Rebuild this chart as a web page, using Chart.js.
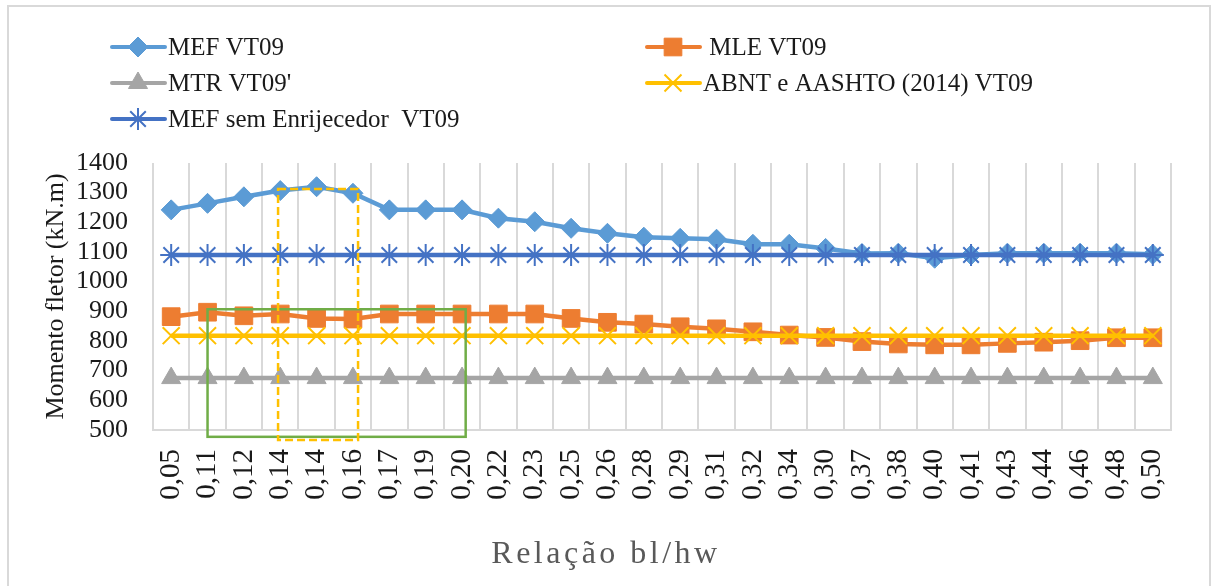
<!DOCTYPE html>
<html lang="pt">
<head>
<meta charset="utf-8">
<title>Momento fletor x Relação bl/hw – VT09</title>
<script src="https://cdn.jsdelivr.net/npm/chart.js@4.4.1/dist/chart.umd.min.js"></script>
<style>
  html, body { margin: 0; padding: 0; background: #fff; }
  #wrap { position: relative; width: 1211px; height: 586px; }
</style>
</head>
<body>
<div id="wrap"><canvas id="chart"></canvas></div>
<script>
/* ---------- data ---------------------------------------------------------- */
const relacaoBlHw = ['0,05','0,11','0,12','0,14','0,14','0,16','0,17','0,19','0,20','0,22',
                     '0,23','0,25','0,26','0,28','0,29','0,31','0,32','0,34','0,30','0,37',
                     '0,38','0,40','0,41','0,43','0,44','0,46','0,48','0,50'];

const mefVT09   = [1242,1264,1286,1307,1320,1298,1242,1242,1242,1214,
                   1202,1180,1163,1150,1146,1143,1126,1126,1112,1095,
                   1096,1079,1090,1096,1096,1096,1096,1092];
const mleVT09   = [882,897,885,891,876,874,891,891,891,891,
                   891,876,863,857,848,841,831,820,812,798,
                   790,787,787,792,796,801,811,811];
const mtrVT09   = [675,675,675,675,675,675,675,675,675,675,
                   675,675,675,675,675,675,675,675,675,675,
                   675,675,675,675,675,675,675,675];
const abntVT09  = [818,818,818,818,818,818,818,818,818,818,
                   818,818,818,818,818,818,818,818,818,818,
                   818,818,818,818,818,818,818,818];
const mefSemEnr = [1090,1090,1090,1090,1090,1090,1090,1090,1090,1090,
                   1090,1090,1090,1090,1090,1090,1090,1090,1090,1090,
                   1090,1090,1090,1090,1090,1090,1090,1090];

const yTicks = { min: 500, max: 1400, step: 100 };

/* ---------- series look + legend slots ------------------------------------ */
const SERIF = "'Liberation Serif', 'Times New Roman', serif";

const series = [
  { label: 'MEF VT09',                   data: mefVT09,   color: '#5B9BD5', style: 'rectRot',  radius: 10,   bw: 1, order: 4, lx: 112, ly: 47 },
  { label: ' MLE VT09',                  data: mleVT09,   color: '#ED7D31', style: 'rect',     radius: 12.5, bw: 1, order: 3, lx: 647, ly: 47 },
  { label: "MTR VT09'",                  data: mtrVT09,   color: '#A5A5A5', style: 'triangle', radius: 11,   bw: 1, order: 2, lx: 112, ly: 83 },
  { label: 'ABNT e AASHTO (2014) VT09',  data: abntVT09,  color: '#FFC000', style: 'crossRot', radius: 12,   bw: 2, order: 1, lx: 647, ly: 83 },
  { label: 'MEF sem Enrijecedor  VT09',  data: mefSemEnr, color: '#4472C4', style: 'star',     radius: 11,   bw: 2, order: 0, lx: 112, ly: 119 }
];

/* highlight boxes, in category index / kN.m units */
const boxes = [
  { x0: 1.0,  x1: 8.1,  top: 907,  bottom: 477, color: '#70AD47', dash: [] },
  { x0: 2.94, x1: 5.14, top: 1312, bottom: 466, color: '#FFC000', dash: [8, 4] }
];

/* ---------- plugin: frame, boxes, legend, x title -------------------------- */
const decor = {
  id: 'decor',
  beforeDraw(chart) {
    const { ctx, width, height } = chart;
    ctx.save();
    ctx.fillStyle = '#fff';
    ctx.fillRect(0, 0, width, height);
    ctx.strokeStyle = '#D9D9D9';
    ctx.lineWidth = 2;
    ctx.beginPath();
    ctx.moveTo(8, height + 2);
    ctx.lineTo(8, 6);
    ctx.lineTo(1210, 6);
    ctx.lineTo(1210, height + 2);
    ctx.stroke();
    ctx.restore();
  },
  afterDatasetsDraw(chart) {
    const { ctx, scales: { x, y } } = chart;
    ctx.save();
    ctx.lineWidth = 2.5;
    boxes.forEach(b => {
      const l = x.getPixelForValue(b.x0), r = x.getPixelForValue(b.x1);
      const t = y.getPixelForValue(b.top), bt = y.getPixelForValue(b.bottom);
      ctx.strokeStyle = b.color;
      ctx.setLineDash(b.dash);
      ctx.strokeRect(l, t, r - l, bt - t);
    });
    ctx.restore();
  },
  afterDraw(chart) {
    const ctx = chart.ctx;
    const drawPoint = Chart.helpers && Chart.helpers.drawPoint;
    ctx.save();
    // legend – two columns, line + marker + text
    series.forEach(s => {
      ctx.setLineDash([]);
      ctx.strokeStyle = s.color;
      ctx.lineWidth = 4;
      ctx.lineCap = 'round';
      ctx.beginPath();
      ctx.moveTo(s.lx, s.ly);
      ctx.lineTo(s.lx + 53, s.ly);
      ctx.stroke();
      ctx.fillStyle = s.color;
      ctx.lineWidth = s.bw;
      ctx.lineCap = 'butt';
      if (drawPoint) drawPoint(ctx, { pointStyle: s.style, radius: s.radius, borderWidth: s.bw, rotation: 0 }, s.lx + 26, s.ly);
      ctx.fillStyle = '#1a1a1a';
      ctx.font = `25px ${SERIF}`;
      ctx.textBaseline = 'middle';
      ctx.textAlign = 'left';
      ctx.fillText(s.label, s.lx + 56, s.ly + 1);
    });
    // x axis title, letter-spaced
    ctx.fillStyle = '#595959';
    ctx.font = `32px ${SERIF}`;
    ctx.letterSpacing = '3.5px';
    ctx.textAlign = 'center';
    ctx.textBaseline = 'alphabetic';
    ctx.fillText('Relação bl/hw', 606, 563);
    ctx.restore();
  }
};

/* ---------- chart ---------------------------------------------------------- */
new Chart(document.getElementById('chart'), {
  type: 'line',
  data: {
    labels: relacaoBlHw,
    datasets: series.map(s => ({
      label: s.label,
      data: s.data,
      order: s.order,
      borderColor: s.color,
      backgroundColor: s.color,
      borderWidth: 4.5,
      tension: 0,
      fill: false,
      pointStyle: s.style,
      pointRadius: s.radius,
      pointHoverRadius: s.radius,
      pointBorderWidth: s.bw,
      pointBackgroundColor: s.color,
      pointBorderColor: s.color
    }))
  },
  options: {
    responsive: true,
    maintainAspectRatio: false,
    animation: false,
    layout: { padding: { left: 37, top: 163, right: 40, bottom: 0 } },
    plugins: { legend: { display: false }, tooltip: { enabled: false } },
    scales: {
      x: {
        offset: true,
        grid: { offset: true, color: '#D9D9D9', lineWidth: 2, drawTicks: false },
        border: { display: true, color: '#D9D9D9', width: 2 },
        ticks: {
          autoSkip: false, minRotation: 90, maxRotation: 90, padding: 19,
          color: '#1a1a1a', font: { family: SERIF, size: 29 }
        },
        afterFit: s => { s.height = 156; }
      },
      y: {
        min: yTicks.min, max: yTicks.max,
        grid: { display: false, drawTicks: false },
        border: { display: false },
        ticks: {
          stepSize: yTicks.step, autoSkip: false, padding: 25, color: '#1a1a1a',
          font: { family: SERIF, size: 26, lineHeight: 1 },
          callback: v => String(v)
        },
        title: {
          display: true, text: 'Momento fletor (kN.m)', color: '#1a1a1a',
          font: { family: SERIF, size: 26 }, padding: { top: 4, bottom: 0 }
        },
        afterFit: s => { s.width = 116; }
      }
    }
  },
  plugins: [decor]
});
</script>
</body>
</html>
